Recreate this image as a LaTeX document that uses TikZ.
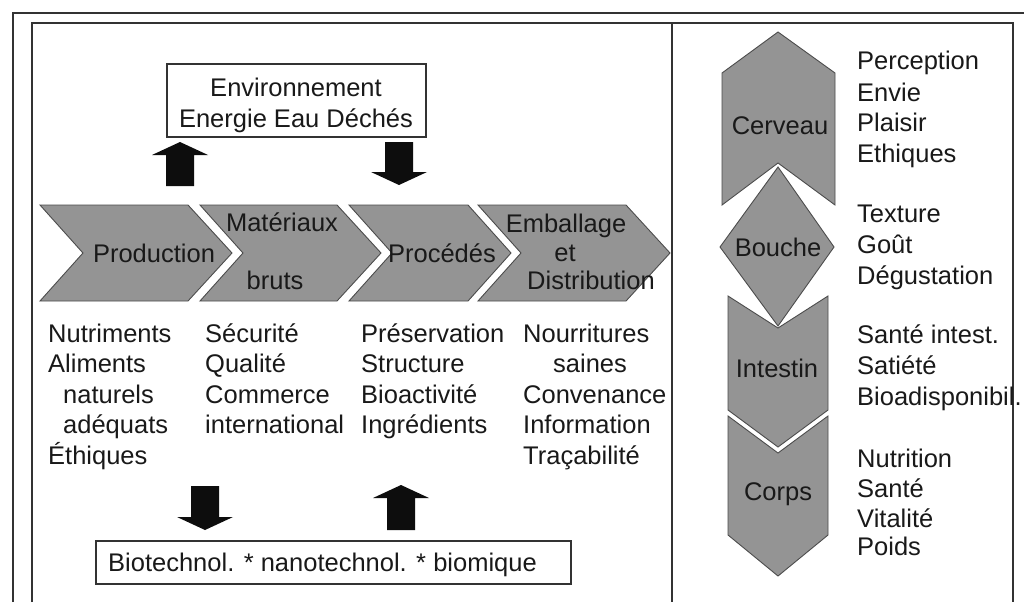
\documentclass[tikz,border=0pt]{standalone}
\usepackage{fontspec}
\setmainfont{Liberation Sans}
\begin{document}
\begin{tikzpicture}[x=1pt,y=-1pt,
  txt/.style={font=\fontsize{25.5pt}{30pt}\selectfont, inner sep=0pt, text=black!90},
  lt/.style={txt, anchor=base west},
  ct/.style={txt, anchor=base},
  shp/.style={fill=black!42, draw=black!70, line width=0.9pt, line join=miter},
  blk/.style={fill=black!95, draw=none},
  frame/.style={draw=black!80, line width=1.4pt},
  boxr/.style={draw=black!80, line width=1.2pt, fill=white, inner sep=0pt}]
\useasboundingbox (0,0) rectangle (1024,602);
\fill[white] (0,0) rectangle (1024,602);
% frame
\draw[frame] (13,602) -- (13,13) -- (1024,13);
\draw[frame] (32,602) -- (32,23) -- (1013,23) -- (1013,602);
\draw[frame] (672,23) -- (672,602);
% top box
\node[boxr, minimum width=259pt, minimum height=73pt] (env) at (296.5,100.5) {};
\node[ct] (env1) at (296,96) {Environnement};
\node[ct] (env2) at (296,127) {Energie Eau Déchés};
% block arrows
\fill[blk] (180,142) -- (208,155) -- (194,155) -- (194,186) -- (166,186) -- (166,155) -- (152,155) -- cycle;
\fill[blk] (385,142) -- (413,142) -- (413,172) -- (427,172) -- (399,185) -- (371,172) -- (385,172) -- cycle;
\fill[blk] (191,486) -- (219,486) -- (219,517) -- (233,517) -- (205,530) -- (177,517) -- (191,517) -- cycle;
\fill[blk] (401,485) -- (429,498) -- (415,498) -- (415,530) -- (387,530) -- (387,498) -- (373,498) -- cycle;
% chevrons
\draw[shp] (40,205) -- (188,205) -- (232,253) -- (188,301) -- (40,301) -- (83,253) -- cycle;
\draw[shp] (200,205) -- (337,205) -- (381,253) -- (337,301) -- (200,301) -- (243,253) -- cycle;
\draw[shp] (349,205) -- (468,205) -- (511,253) -- (468,301) -- (349,301) -- (392,253) -- cycle;
\draw[shp] (478,205) -- (626,205) -- (670,253) -- (626,301) -- (478,301) -- (521,253) -- cycle;
\node[ct] (prod) at (154,262) {Production};
\node[ct] (mat1) at (282,231) {Matériaux};
\node[ct] (mat2) at (275,289) {bruts};
\node[ct] (proc) at (442,262) {Procédés};
\node[ct] (emb1) at (566,232) {Emballage};
\node[ct] (emb2) at (565,261) {et};
\node[ct] (emb3) at (591,289) {Distribution};
% lists under chevrons
\node[lt] (a1) at (48,342) {Nutriments};
\node[lt] (a2) at (48,372.5) {Aliments};
\node[lt] (a3) at (63,403) {naturels};
\node[lt] (a4) at (63,433.5) {adéquats};
\node[lt] (a5) at (48,464) {Éthiques};
\node[lt] (b1) at (205,342) {Sécurité};
\node[lt] (b2) at (205,372.5) {Qualité};
\node[lt] (b3) at (205,403) {Commerce};
\node[lt] (b4) at (205,433.5) {international};
\node[lt] (c1) at (361,342) {Préservation};
\node[lt] (c2) at (361,372.5) {Structure};
\node[lt] (c3) at (361,403) {Bioactivité};
\node[lt] (c4) at (361,433.5) {Ingrédients};
\node[lt] (d1) at (523,342) {Nourritures};
\node[lt] (d2) at (553,372.5) {saines};
\node[lt] (d3) at (523,403) {Convenance};
\node[lt] (d4) at (523,433.5) {Information};
\node[lt] (d5) at (523,464) {Traçabilité};
% bottom box
\node[boxr, minimum width=475pt, minimum height=43pt] (bio) at (333.5,562.5) {};
\node[lt] (biot) at (108,571) {Biotechnol. * nanotechnol. * biomique};
% right panel shapes
\draw[shp] (778,32) -- (835,73) -- (835,205) -- (778,163) -- (722,205) -- (722,73) -- cycle;
\draw[shp] (778,167) -- (834,247) -- (778,326) -- (720,247) -- cycle;
\draw[shp] (728,296) -- (778,328) -- (828,296) -- (828,410) -- (778,447) -- (728,410) -- cycle;
\draw[shp] (728,416) -- (778,453) -- (828,416) -- (828,535) -- (778,576) -- (728,535) -- cycle;
\node[ct] (cer) at (780,134) {Cerveau};
\node[ct] (bou) at (778,256) {Bouche};
\node[ct] (int) at (777,377) {Intestin};
\node[ct] (cor) at (778,500) {Corps};
% right panel lists
\node[lt] (r1) at (857,70) {Perception};
\node[lt] (r2) at (857,101) {Envie};
\node[lt] (r3) at (857,131) {Plaisir};
\node[lt] (r4) at (857,162) {Ethiques};
\node[lt] (r5) at (857,222) {Texture};
\node[lt] (r6) at (857,253) {Goût};
\node[lt] (r7) at (857,284) {Dégustation};
\node[lt] (r8) at (857,343) {Santé intest.};
\node[lt] (r9) at (857,374) {Satiété};
\node[lt] (r10) at (857,405) {Bioadisponibil.};
\node[lt] (r11) at (857,467) {Nutrition};
\node[lt] (r12) at (857,497) {Santé};
\node[lt] (r13) at (857,527) {Vitalité};
\node[lt] (r14) at (857,555) {Poids};
\end{tikzpicture}
\end{document}
